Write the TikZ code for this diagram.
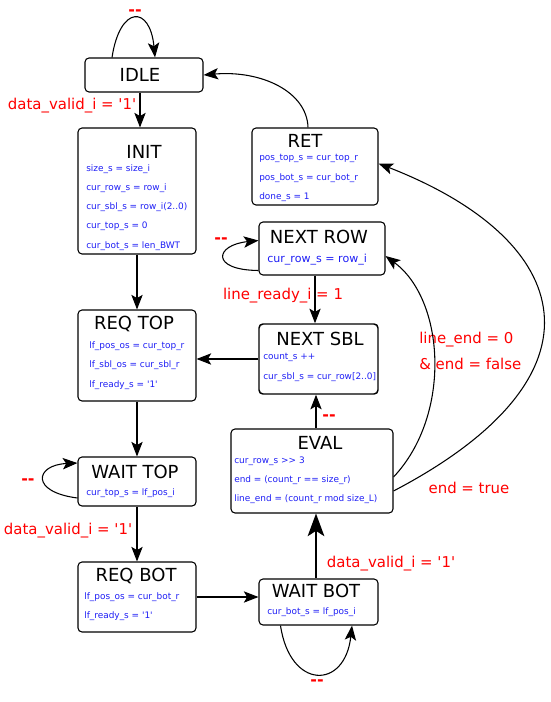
\documentclass[tikz,border=0pt]{standalone}
\usepackage{fontspec}
\newfontfamily\dv{DejaVu Sans}
\usetikzlibrary{arrows.meta,calc,fit}
\definecolor{itemblue}{RGB}{30,30,245}
\definecolor{lblred}{RGB}{255,0,0}
\begin{document}
\begin{tikzpicture}[x=0.75pt,y=-0.75pt,
  state/.style={draw,rounded corners=3pt,line width=0.8pt,inner sep=0pt},
  ttl/.style={font=\dv\fontsize{13.5}{16}\selectfont,inner sep=0pt},
  itm/.style={font=\dv\fontsize{6.7}{8}\selectfont,text=itemblue,inner sep=0pt,anchor=west},
  bigitm/.style={font=\dv\fontsize{8.3}{10}\selectfont,text=itemblue,inner sep=0pt,anchor=west},
  lbl/.style={font=\dv\fontsize{11.2}{13}\selectfont,text=lblred,inner sep=0pt},
  dsh/.style={font=\dv\bfseries\fontsize{12}{13}\selectfont,text=lblred,inner sep=0pt},
  arr/.style={draw,line width=0.8pt,-{Stealth[length=11pt,width=8.5pt,inset=2.5pt]}},
  bigarr/.style={draw,line width=1.2pt,-{Stealth[length=17pt,width=12.5pt,inset=4pt]}}]
\useasboundingbox (0,0) rectangle (550,702);

% states
\node[state,fit={(85,58)(203,92)}] (idle) {};
\node[state,fit={(78,128)(196,254)}] (init) {};
\node[state,fit={(252,128)(378,205)}] (ret) {};
\node[state,fit={(259,222)(385,275)}] (nextrow) {};
\node[state,line width=1.1pt,fit={(259,324)(378,394)}] (nextsbl) {};
\node[state,fit={(78,310)(196,401)}] (reqtop) {};
\node[state,fit={(78,457)(196,506)}] (waittop) {};
\node[state,fit={(78,562)(196,632)}] (reqbot) {};
\node[state,fit={(231,429)(393,513)}] (eval) {};
\node[state,fit={(259,579)(378,625)}] (waitbot) {};

% titles
\node[ttl] (tidle) at (140,75) {IDLE};
\node[ttl] (tinit) at (144,152) {INIT};
\node[ttl] (tret) at (305,141) {RET};
\node[ttl] (tnextrow) at (319,237) {NEXT ROW};
\node[ttl] (tnextsbl) at (320,339) {NEXT SBL};
\node[ttl] (treqtop) at (134,324) {REQ TOP};
\node[ttl] (twaittop) at (135,472) {WAIT TOP};
\node[ttl] (treqbot) at (136,576) {REQ BOT};
\node[ttl] (teval) at (320,443) {EVAL};
\node[ttl] (twaitbot) at (316,591) {WAIT BOT};

% items
\node[itm] (i1) at (86,169) {size\_s = size\_i};
\node[itm] (i2) at (86,188) {cur\_row\_s = row\_i};
\node[itm] (i3) at (86,207) {cur\_sbl\_s = row\_i(2..0)};
\node[itm] (i4) at (86,226) {cur\_top\_s = 0};
\node[itm] (i5) at (86,246) {cur\_bot\_s = len\_BWT};

\node[itm] (r1) at (259,158) {pos\_top\_s = cur\_top\_r};
\node[itm] (r2) at (259,178) {pos\_bot\_s = cur\_bot\_r};
\node[itm] (r3) at (259,197) {done\_s = 1};

\node[bigitm] (n1) at (267,260) {cur\_row\_s = row\_i};

\node[itm] (s1) at (263,357) {count\_s ++};
\node[itm] (s2) at (263,377) {cur\_sbl\_s = cur\_row[2..0]};

\node[itm] (q1) at (89,346) {lf\_pos\_os = cur\_top\_r};
\node[itm] (q2) at (89,365) {lf\_sbl\_os = cur\_sbl\_r};
\node[itm] (q3) at (89,385) {lf\_ready\_s = '1'};

\node[itm] (w1) at (86,493) {cur\_top\_s = lf\_pos\_i};

\node[itm] (b1) at (84,597) {lf\_pos\_os = cur\_bot\_r};
\node[itm] (b2) at (84,616) {lf\_ready\_s = '1'};

\node[itm] (e1) at (234,461) {cur\_row\_s >> 3};
\node[itm] (e2) at (234,480) {end = (count\_r == size\_r)};
\node[itm] (e3) at (234,499) {line\_end = (count\_r mod size\_L)};

\node[itm] (v1) at (267,612) {cur\_bot\_s = lf\_pos\_i};

% labels
\node[dsh] (d1) at (135,13) {--};
\node[lbl] (l1) at (72,106) {data\_valid\_i = '1'};
\node[dsh] (d2) at (221,241) {--};
\node[lbl] (l2) at (283,296) {line\_ready\_i = 1};
\node[lbl,anchor=west] (l3) at (419,340) {line\_end = 0};
\node[lbl,anchor=west] (l4) at (419,364) {\& end = false};
\node[dsh] (d3) at (329,418) {--};
\node[lbl] (l5) at (469,488) {end = true};
\node[lbl] (l6) at (391,564) {data\_valid\_i = '1'};
\node[dsh] (d4) at (317,683) {--};
\node[dsh] (d5) at (28,482) {--};
\node[lbl] (l7) at (68,531) {data\_valid\_i = '1'};

% connectors
\draw[arr] ($(idle.north)+(-32,0)$) .. controls (120,5) and (150,5) .. ($(idle.north)+(11,0)$);
\draw[arr] ($(idle.south)+(-4,0)$) -- ($(init.north)+(3,0)$);
\draw[arr] ($(ret.north)+(-7,0)$) .. controls (307,92) and (262,70) .. (idle.east);
\draw[arr] (init.south) -- (reqtop.north);
\draw[arr] (nextsbl.west) -- (nextsbl.west -| reqtop.east);
\draw[arr] (reqtop.south) -- (waittop.north);
\draw[arr] ($(waittop.west)+(0,16.5)$) .. controls (30,492) and (35,465) .. ($(waittop.west)+(0,-18.5)$);
\draw[arr] (waittop.south) -- (reqbot.north);
\draw[arr] (reqbot.east) -- (reqbot.east -| waitbot.west);
\draw[arr] ($(waitbot.south)+(-38,0)$) .. controls (290,690) and (345,690) .. ($(waitbot.south)+(33.5,0)$);
\draw[bigarr] ($(waitbot.north)+(-2.5,0)$) -- ($(eval.south)+(4,0)$);
\draw[arr] ($(eval.north)+(4,0)$) -- ($(nextsbl.south)+(-2.5,0)$);
\draw[arr] ($(nextrow.south)+(-7,0)$) -- ($(nextsbl.north)+(-3.5,0)$);
\draw[arr] ($(nextrow.west)+(0,22)$) .. controls (210,270) and (215,245) .. ($(nextrow.west)+(0,-8)$);
\draw[arr] ($(eval.east)+(0,6)$) .. controls (452,415) and (445,300) .. ($(nextrow.east)+(0,7.5)$);
\draw[arr] ($(eval.east)+(0,20)$) .. controls (615,375) and (575,240) .. ($(ret.east)+(0,-3)$);
\end{tikzpicture}
\end{document}
